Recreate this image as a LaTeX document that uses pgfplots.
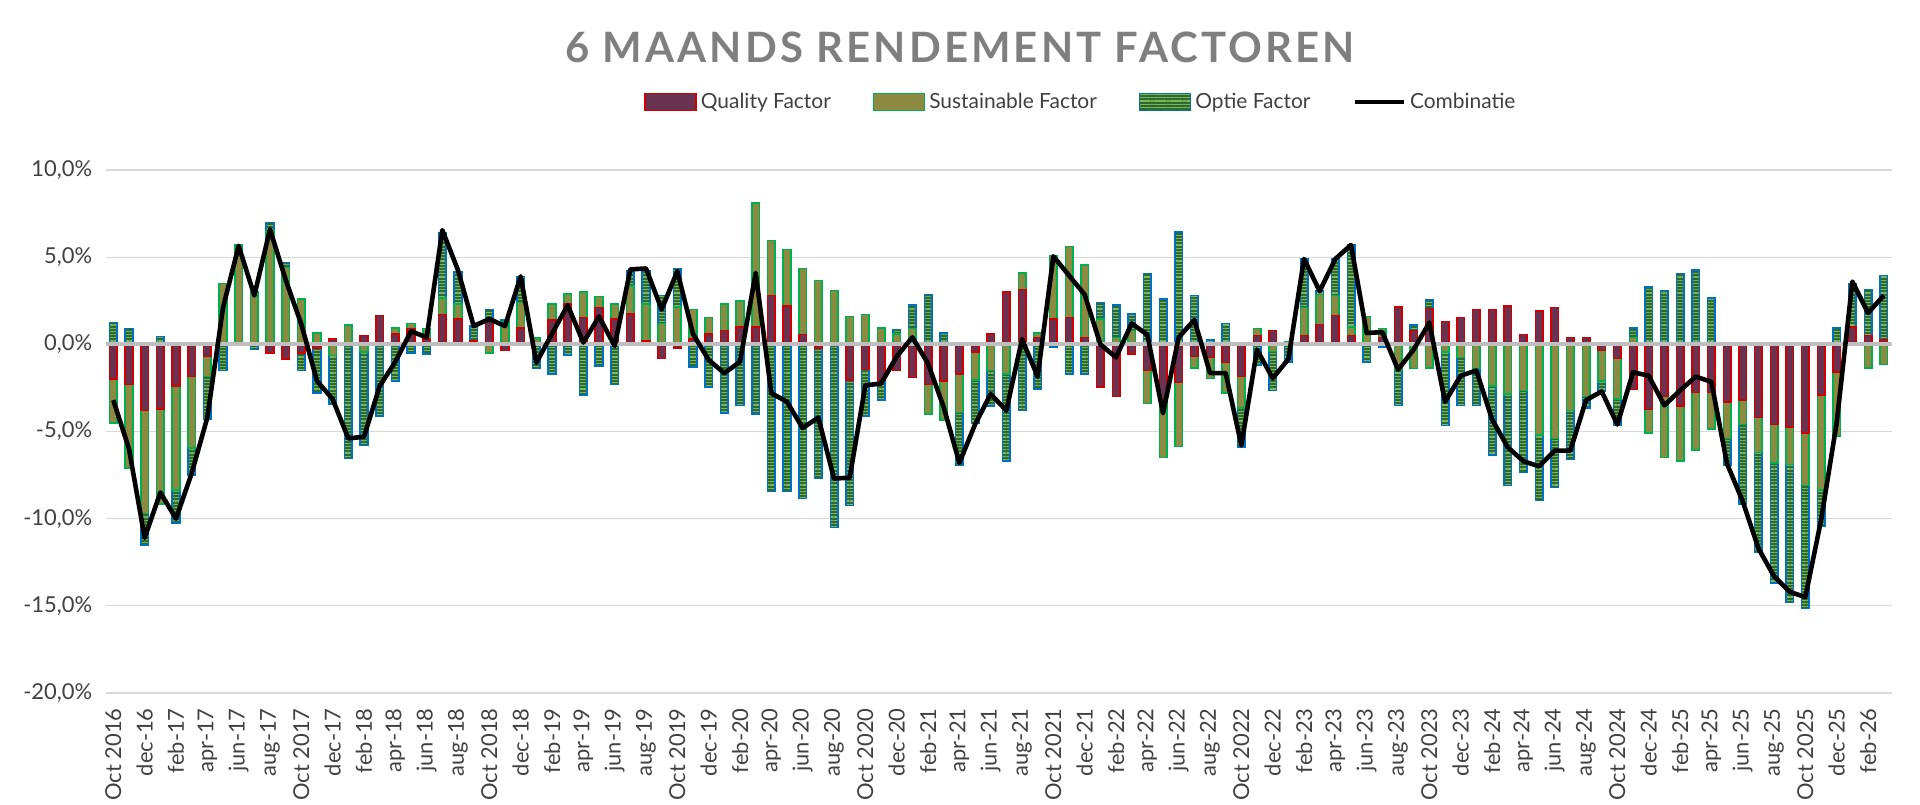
\documentclass[border=0pt]{standalone}
\usepackage{pgfplots}
\pgfplotsset{compat=1.18}
\usepackage{pgfplotstable}
\usetikzlibrary{patterns.meta}
\usepackage{fontspec}
\setmainfont{Lato}
\newfontfamily\titlefont[LetterSpace=7.5]{Lato}
\definecolor{qfill}{HTML}{683250}
\definecolor{qdraw}{HTML}{D00000}
\definecolor{sfill}{HTML}{8C8A40}
\definecolor{sdraw}{HTML}{00B050}
\definecolor{ofill}{HTML}{2D6B2D}
\definecolor{ostripe}{HTML}{7DB562}
\definecolor{odraw}{HTML}{0070C0}
\definecolor{gridc}{HTML}{D9D9D9}
\definecolor{zeroc}{HTML}{BFBFBF}
\definecolor{txt}{HTML}{404040}
\definecolor{titlec}{HTML}{7F7F7F}

\pgfplotstableread{
i q s o c
0 -2.0 -2.5 1.25 -3.2
1 -2.3 -4.8 0.9 -6.0
2 -3.8 -5.9 -1.8 -11.1
3 -3.7 -5.45 0.45 -8.5
4 -2.4 -5.95 -1.9 -10.0
5 -1.85 -4.1 -1.55 -7.4
6 -0.7 -1.15 -2.45 -4.2
7 0 3.5 -1.5 2.1
8 0.1 5.6 0 5.65
9 0.1 2.9 -0.3 2.8
10 -0.5 6.5 0.5 6.6
11 -0.85 4.4 0.3 3.7
12 -0.5 2.6 -1.0 1.15
13 -0.2 0.65 -2.6 -2.1
14 0.3 -0.65 -2.8 -3.15
15 0 1.1 -6.55 -5.4
16 0.5 -0.45 -5.35 -5.3
17 1.65 0 -4.1 -2.4
18 0.6 0.35 -2.1 -1.0
19 0.9 0.3 -0.5 0.75
20 0.3 0.6 -0.55 0.4
21 1.7 0.95 3.75 6.55
22 1.45 0.85 1.85 4.25
23 0.2 0 0.85 1.05
24 1.35 -0.5 0.65 1.45
25 -0.35 1.3 0.1 1.05
26 0.95 1.45 1.5 3.9
27 0 0.35 -1.4 -1.05
28 1.4 0.9 -1.7 0.6
29 2.3 0.6 -0.6 2.25
30 1.55 1.45 -2.9 0.1
31 2.1 0.65 -1.25 1.6
32 1.45 0.85 -2.3 -0.1
33 1.75 1.6 0.85 4.3
34 0.2 2.1 1.9 4.35
35 -0.8 1.2 1.6 2.0
36 -0.2 2.15 2.2 4.2
37 0.3 1.7 -1.3 0.6
38 0.6 0.95 -2.45 -0.9
39 0.8 1.5 -3.95 -1.65
40 1.0 1.5 -3.5 -1.0
41 1.0 7.1 -4.0 4.1
42 2.8 3.15 -8.45 -2.8
43 2.2 3.25 -8.45 -3.3
44 0.55 3.8 -8.85 -4.8
45 -0.2 3.65 -7.5 -4.2
46 0 3.1 -10.5 -7.7
47 -2.05 1.6 -7.2 -7.65
48 -1.45 1.7 -2.65 -2.35
49 -2.05 0.95 -1.15 -2.25
50 -1.5 0.6 0.25 -0.7
51 -1.9 0.9 1.35 0.4
52 -2.3 -1.7 2.85 -1.1
53 -2.1 -2.25 0.65 -3.6
54 -1.7 -2.2 -3.05 -6.8
55 -0.45 -1.6 -2.5 -4.6
56 0.6 -1.5 -2.05 -2.85
57 3.0 -1.7 -5.0 -3.8
58 3.15 0.95 -3.8 0.3
59 0.4 0.25 -2.55 -1.85
60 1.45 3.65 -0.15 5.05
61 1.55 4.05 -1.7 3.95
62 0.4 4.15 -1.7 2.85
63 -2.45 1.45 0.95 0
64 -3.0 0.4 1.85 -0.75
65 -0.55 0.8 0.95 1.2
66 -1.5 -1.9 4.05 0.55
67 -3.2 -3.3 2.6 -3.95
68 -2.2 -3.65 6.45 0.4
69 -0.7 -0.65 2.8 1.4
70 -0.75 -1.2 0.25 -1.65
71 -1.05 -1.75 1.2 -1.65
72 -1.85 -1.8 -2.25 -5.8
73 0.5 0.4 -1.2 -0.3
74 0.8 -0.4 -2.25 -1.95
75 0 0.15 -1.0 -0.85
76 0.5 1.6 2.8 4.9
77 1.15 1.7 0.2 3.05
78 1.65 1.15 2.1 4.9
79 0.5 0.5 4.7 5.7
80 0 1.6 -1.0 0.65
81 0.4 0.5 -0.15 0.7
82 2.15 -1.5 -2.0 -1.45
83 0.8 -1.4 0.3 -0.3
84 2.05 -1.35 0.5 1.25
85 1.3 -0.45 -4.2 -3.3
86 1.55 -0.75 -2.75 -1.8
87 2.0 -1.4 -2.1 -1.5
88 2.0 -2.4 -3.95 -4.3
89 2.2 -2.85 -5.25 -5.9
90 0.55 -2.65 -4.7 -6.7
91 1.9 -5.2 -3.75 -7.0
92 2.1 -5.4 -2.8 -6.1
93 0.4 -3.8 -2.8 -6.1
94 0.4 -3.0 -0.65 -3.2
95 -0.35 -1.75 -0.6 -2.7
96 -0.8 -2.35 -1.5 -4.6
97 -2.6 0.4 0.55 -1.6
98 -3.75 -1.35 3.3 -1.8
99 -3.0 -3.5 3.1 -3.5
100 -3.55 -3.15 4.05 -2.65
101 -2.75 -3.3 4.25 -1.85
102 -2.75 -2.1 2.65 -2.15
103 -3.3 -2.1 -1.55 -6.85
104 -3.2 -1.4 -4.6 -9.0
105 -4.2 -2.0 -5.75 -11.7
106 -4.6 -2.2 -6.9 -13.3
107 -4.75 -2.15 -7.9 -14.2
108 -5.1 -3.0 -7.05 -14.5
109 -2.9 -5.45 -2.1 -10.1
110 -1.6 -3.65 0.95 -4.5
111 1.0 0 2.5 3.6
112 0.5 -1.35 2.65 1.8
113 0.25 -1.15 3.7 2.8
}\data

\pgfplotsset{
  base/.style={scale only axis, width=893bp, height=261.5bp,
    xmin=-0.5, xmax=113.5, ymin=-20, ymax=10,
    at={(52.75bp,56bp)}, anchor=south west},
  barleg/.style={legend image code/.code={\draw[##1] (0bp,-4.25bp) rectangle (25.5bp,4.25bp);}},
  lineleg/.style={legend image code/.code={\draw[##1] (0bp,0bp) -- (24.5bp,0bp);}},
  qstyle/.style={fill=qfill, draw=qdraw, line width=0.75bp, barleg},
  sstyle/.style={fill=sfill, draw=sdraw, line width=0.75bp, barleg},
  ostyle/.style={fill=ofill, draw=odraw, line width=0.75bp, barleg,
    postaction={pattern={Lines[distance=1.6bp,angle=0,line width=0.6bp]}, pattern color=ostripe}},
}

\begin{document}
\begin{tikzpicture}
\useasboundingbox (0,0) rectangle (960bp,402.5bp);
\node[font=\titlefont\bfseries\fontsize{21}{24}\selectfont, text=titlec] at (480bp,379bp) {6 MAANDS RENDEMENT FACTOREN};

% positive parts + grid + labels + legend
\begin{axis}[base,
  ybar stacked, bar width=0.48,
  ymajorgrids, grid style={gridc, line width=0.65bp},
  ytick={-20,-15,-10,-5,0,5,10},
  yticklabels={{-20,0\%},{-15,0\%},{-10,0\%},{-5,0\%},{0,0\%},{5,0\%},{10,0\%}},
  xtick={0,2,...,112},
  xticklabels={Oct 2016,dec-16,feb-17,apr-17,jun-17,aug-17,Oct 2017,dec-17,feb-18,apr-18,jun-18,aug-18,Oct 2018,dec-18,feb-19,apr-19,jun-19,aug-19,Oct 2019,dec-19,feb-20,apr-20,jun-20,aug-20,Oct 2020,dec-20,feb-21,apr-21,jun-21,aug-21,Oct 2021,dec-21,feb-22,apr-22,jun-22,aug-22,Oct 2022,dec-22,feb-23,apr-23,jun-23,aug-23,Oct 2023,dec-23,feb-24,apr-24,jun-24,aug-24,Oct 2024,dec-24,feb-25,apr-25,jun-25,aug-25,Oct 2025,dec-25,feb-26},
  axis line style={draw=none}, major tick length=0pt,
  tick label style={font=\fontsize{11}{13}\selectfont, text=txt},
  yticklabel style={anchor=east, inner sep=0pt},
  yticklabel shift=6.5bp,
  xticklabel style={rotate=90, anchor=east, inner sep=0pt},
  xticklabel shift=7.5bp,
  legend style={at={(0.5467,1.130)}, anchor=center, draw=none, fill=none,
    legend columns=4, font=\fontsize{10.5}{12}\selectfont, text=txt,
    /tikz/every even column/.append style={column sep=19bp},
    nodes={inner xsep=2bp}},
]
\addplot[qstyle] table[x=i, y expr={max(\thisrow{q},0)}] {\data};
\addlegendentry{Quality Factor}
\addplot[sstyle] table[x=i, y expr={max(\thisrow{s},0)}] {\data};
\addlegendentry{Sustainable Factor}
\addplot[ostyle] table[x=i, y expr={max(\thisrow{o},0)}] {\data};
\addlegendentry{Optie Factor}
\addlegendimage{black, line width=2.3bp, lineleg}
\addlegendentry{Combinatie}
\end{axis}

% negative parts
\begin{axis}[base, hide axis, ybar stacked, bar width=0.48]
\addplot[qstyle] table[x=i, y expr={min(\thisrow{q},0)}] {\data};
\addplot[sstyle] table[x=i, y expr={min(\thisrow{s},0)}] {\data};
\addplot[ostyle] table[x=i, y expr={min(\thisrow{o},0)}] {\data};
\end{axis}

% zero line and combination line
\begin{axis}[base, hide axis]
\addplot[zeroc, line width=2bp] coordinates {(-0.5,0) (113.5,0)};
\addplot[black, line width=2.3bp, line join=round, mark=none] table[x=i, y=c] {\data};
\end{axis}
\end{tikzpicture}
\end{document}
